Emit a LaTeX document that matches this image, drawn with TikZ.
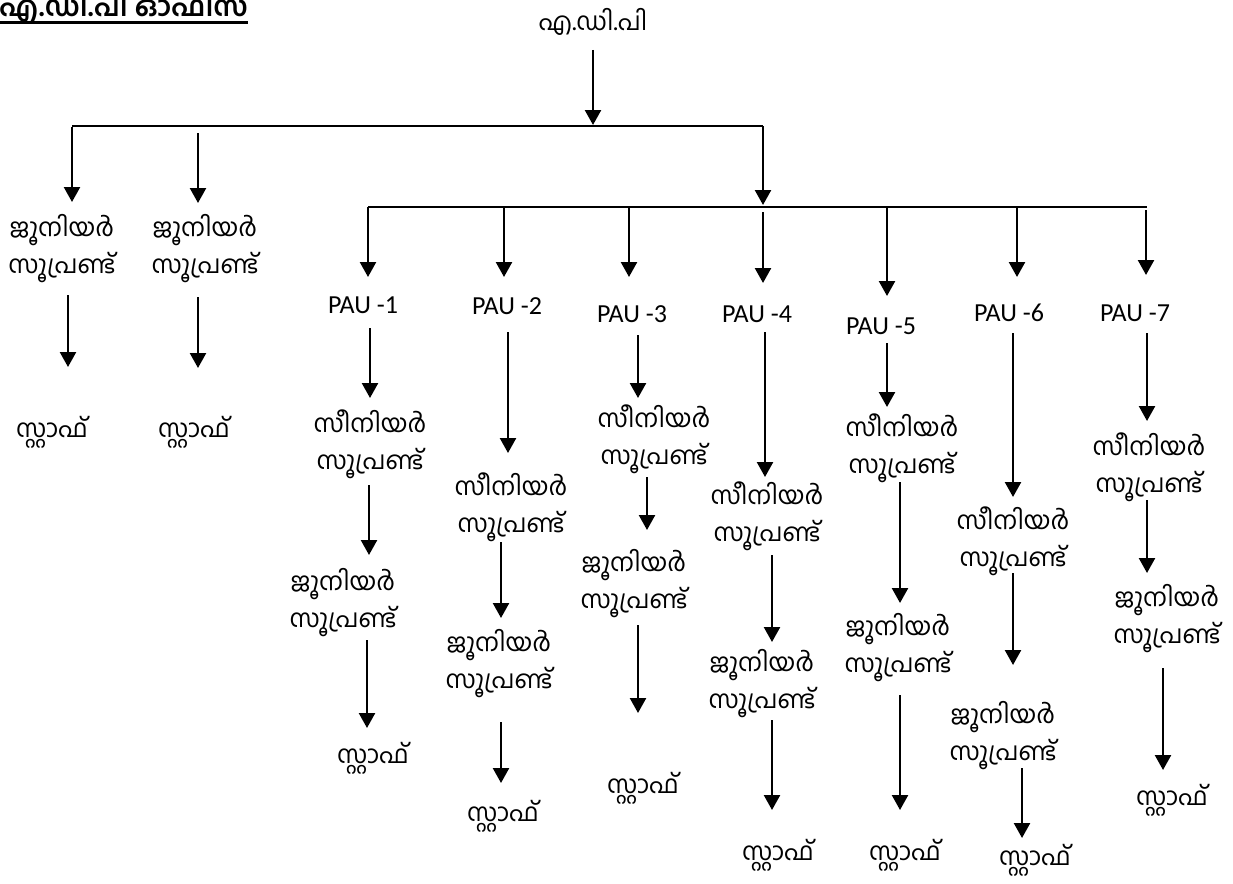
\documentclass[tikz,border=0pt]{standalone}
\usepackage{fontspec}
\newfontfamily\malfont[Script=Malayalam]{Hind Kochi}
\newfontfamily\paufont{Carlito}
\usetikzlibrary{arrows.meta}
\newcommand\varr[4]{\coordinate (#1s) at (#2,#3); \coordinate (#1e) at (#2,#4); \draw[arr] (#1s) -- (#1e);}
\begin{document}
\begin{tikzpicture}[x=1pt,y=-1pt,
  arr/.style={line width=2.4pt,-{Triangle[width=16pt,length=15pt]}},
  ln/.style={line width=2.4pt},
  lbl/.style={inner sep=0pt,align=center,font=\malfont\fontsize{25}{37}\selectfont},
  pau/.style={inner sep=0pt,font=\paufont\fontsize{26}{30}\selectfont}]
\useasboundingbox (0,0) rectangle (1233,883);
% title
\node[anchor=base west,inner sep=0pt,font=\malfont\bfseries\fontsize{28}{30}\selectfont] (title) at (-1,17) {എ.ഡി.പി ഓഫീസ്};
\draw[line width=3pt] ([yshift=-6pt]title.base west) -- ([yshift=-6pt]title.base east);
% top
\node[lbl] (adp) at (593,22) {എ.ഡി.പി};
\varr{a0}{593}{50}{125}
\coordinate (b1L) at (72,126); \coordinate (b1R) at (763,126);
\draw[ln] (b1L) -- (b1R);
% left juniors
\varr{l1}{72}{127}{202}
\varr{l2}{198}{133}{203}
\node[lbl] (lj1) at (62,248.5) {ജൂനിയർ\\സൂപ്രണ്ട്};
\node[lbl] (lj2) at (205,248.5) {ജൂനിയർ\\സൂപ്രണ്ട്};
\varr{l3}{68}{295}{367}
\varr{l4}{198}{297}{368}
\node[lbl] (ls1) at (52,432) {സ്റ്റാഫ്};
\node[lbl] (ls2) at (194,432) {സ്റ്റാഫ്};
% PAU bus
\varr{m0}{763}{126}{205}
\coordinate (b2L) at (368,207); \coordinate (b2R) at (1147,207);
\draw[ln] (b2L) -- (b2R);
\varr{p1}{368}{207}{277}
\varr{p2}{504}{207}{277}
\varr{p3}{629}{207}{277}
\varr{p4}{763}{212}{283}
\varr{p5}{887}{207}{296}
\varr{p6}{1017}{207}{277}
\varr{p7}{1146}{210}{275}
\node[pau] (pau1) at (363,305) {PAU -1};
\node[pau] (pau2) at (507,306) {PAU -2};
\node[pau] (pau3) at (632,314) {PAU -3};
\node[pau] (pau4) at (757,314) {PAU -4};
\node[pau] (pau5) at (881,326) {PAU -5};
\node[pau] (pau6) at (1009,313) {PAU -6};
\node[pau] (pau7) at (1135,313) {PAU -7};
% col1
\varr{c1a}{370}{328}{398}
\node[lbl] (s1) at (370,444.5) {സീനിയർ\\സൂപ്രണ്ട്};
\varr{c1b}{369}{485}{555}
\node[lbl] (j1) at (343,602.5) {ജൂനിയർ\\സൂപ്രണ്ട്};
\varr{c1c}{367}{640}{728}
\node[lbl] (f1) at (373,758) {സ്റ്റാഫ്};
% col2
\varr{c2a}{508}{332}{453}
\node[lbl] (s2) at (511,507) {സീനിയർ\\സൂപ്രണ്ട്};
\varr{c2b}{501}{542}{618}
\node[lbl] (j2) at (499,664) {ജൂനിയർ\\സൂപ്രണ്ട്};
\varr{c2c}{501}{722}{783}
\node[lbl] (f2) at (503,816) {സ്റ്റാഫ്};
% col3
\varr{c3a}{638}{335}{398}
\node[lbl] (s3) at (654,439) {സീനിയർ\\സൂപ്രണ്ട്};
\varr{c3b}{647}{477}{530}
\node[lbl] (j3) at (634,584) {ജൂനിയർ\\സൂപ്രണ്ട്};
\varr{c3c}{638}{625}{713}
\node[lbl] (f3) at (643,788) {സ്റ്റാഫ്};
% col4
\varr{c4a}{765}{332}{477}
\node[lbl] (s4) at (767,516.5) {സീനിയർ\\സൂപ്രണ്ട്};
\varr{c4b}{772}{555}{642}
\node[lbl] (j4) at (762,684) {ജൂനിയർ\\സൂപ്രണ്ട്};
\varr{c4c}{772}{720}{810}
\node[lbl] (f4) at (778,855) {സ്റ്റാഫ്};
% col5
\varr{c5a}{887}{343}{407}
\node[lbl] (s5) at (902,448.5) {സീനിയർ\\സൂപ്രണ്ട്};
\varr{c5b}{900}{482}{603}
\node[lbl] (j5) at (898,648) {ജൂനിയർ\\സൂപ്രണ്ട്};
\varr{c5c}{900}{695}{810}
\node[lbl] (f5) at (905,855) {സ്റ്റാഫ്};
% col6
\varr{c6a}{1013}{333}{497}
\node[lbl] (s6) at (1013,541.5) {സീനിയർ\\സൂപ്രണ്ട്};
\varr{c6b}{1013}{573}{665}
\node[lbl] (j6) at (1003,736) {ജൂനിയർ\\സൂപ്രണ്ട്};
\varr{c6c}{1022}{768}{838}
\node[lbl] (f6) at (1035,860) {സ്റ്റാഫ്};
% col7
\varr{c7a}{1147}{333}{421}
\node[lbl] (s7) at (1149,467.5) {സീനിയർ\\സൂപ്രണ്ട്};
\varr{c7b}{1147}{500}{573}
\node[lbl] (j7) at (1167,619) {ജൂനിയർ\\സൂപ്രണ്ട്};
\varr{c7c}{1163}{668}{770}
\node[lbl] (f7) at (1172,800) {സ്റ്റാഫ്};
\end{tikzpicture}
\end{document}
